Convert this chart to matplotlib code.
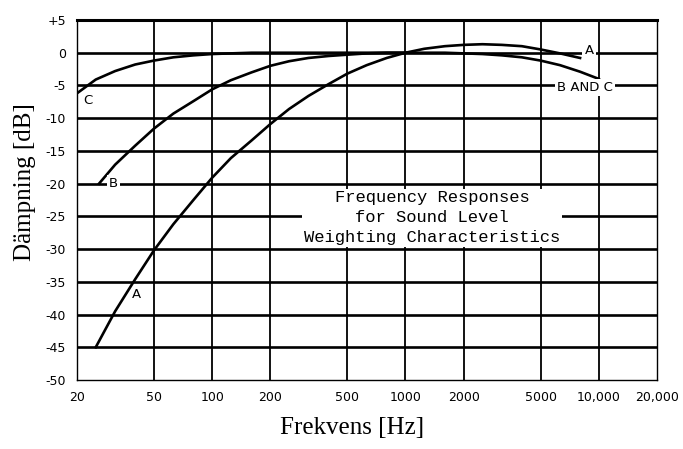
import matplotlib.pyplot as plt

# frequency weighting curves (Hz, dB)
freq_a = [25, 31.5, 40, 50, 63, 80, 100, 125, 160, 200, 250, 315, 400, 500,
          630, 800, 1000, 1250, 1600, 2000, 2500, 3150, 4000, 5000, 6300, 8000]
db_a = [-45, -39.5, -34.6, -30.2, -26.2, -22.5, -19.1, -16.1, -13.4, -10.9,
        -8.6, -6.6, -4.8, -3.2, -1.9, -0.8, 0, 0.6, 1.0, 1.2, 1.3, 1.2, 1.0,
        0.5, -0.1, -0.8]

freq_b = [26, 31.5, 40, 50, 63, 80, 100, 125, 160, 200, 250, 315, 400, 500,
          630, 800, 1000, 1250, 1600, 2000, 2500, 3150, 4000, 5000, 6300, 8000,
          10000]
db_b = [-20, -17.1, -14.2, -11.6, -9.3, -7.4, -5.6, -4.2, -3.0, -2.0, -1.3,
        -0.8, -0.5, -0.3, -0.1, 0, 0, 0, 0, -0.1, -0.2, -0.4, -0.7, -1.2, -1.9,
        -2.9, -4.0]

freq_c = [20, 25, 31.5, 40, 50, 63, 80, 100, 125, 160, 200, 500, 1000]
db_c = [-6.2, -4.1, -2.8, -1.8, -1.2, -0.7, -0.4, -0.2, -0.1, 0, 0, 0, 0]

x_ticks = [20, 50, 100, 200, 500, 1000, 2000, 5000, 10000, 20000]
x_labels = ['20', '50', '100', '200', '500', '1000', '2000', '5000', '10,000', '20,000']
y_ticks = list(range(5, -55, -5))
y_labels = ['+5'] + [str(v) for v in y_ticks[1:]]

fig = plt.figure(figsize=(6.83, 4.49), dpi=100)
ax = fig.add_axes([77 / 683, 1 - 380 / 449, 580 / 683, 360 / 449])

ax.set_xscale('log')
ax.set_xlim(20, 20000)
ax.set_ylim(-50, 5)

# heavy ruled grid
for y in y_ticks[1:-1]:
    ax.axhline(y, color='black', lw=1.9, zorder=1)
for x in x_ticks[1:-1]:
    ax.axvline(x, color='black', lw=1.3, zorder=1)

ax.plot(freq_a, db_a, color='black', lw=1.9, zorder=3)
ax.plot(freq_b, db_b, color='black', lw=1.9, zorder=3)
ax.plot(freq_c, db_c, color='black', lw=1.9, zorder=3)

lbl = dict(fontsize=9.5, ha='center', va='center', family='DejaVu Sans', zorder=4)
box = dict(facecolor='white', edgecolor='none', pad=1.5)
ax.text(40.5, -37, 'A', **lbl)
ax.text(8900, 0.3, 'A', bbox=box, **lbl)
ax.text(8500, -5.3, 'B AND C', bbox=box, **lbl)
ax.text(31, -20, 'B', bbox=box, **lbl)
ax.text(22.8, -7.3, 'C', **lbl)

ax.text(1370, -25.2, 'Frequency Responses\nfor Sound Level\nWeighting Characteristics',
        family='Liberation Mono', fontsize=12.3, ha='center', va='center',
        linespacing=1.4, zorder=5,
        bbox=dict(facecolor='white', edgecolor='none', boxstyle='square,pad=0.1'))

ax.set_xticks(x_ticks)
ax.set_xticklabels(x_labels)
ax.minorticks_off()
ax.set_yticks(y_ticks)
ax.set_yticklabels(y_labels)
ax.tick_params(length=0, labelsize=9)
ax.tick_params(axis='x', pad=8)
ax.tick_params(axis='y', pad=8)

for side in ['left', 'right', 'bottom']:
    ax.spines[side].set_linewidth(1.0)
ax.spines['top'].set_linewidth(2.2)

fig.text(352 / 683, 1 - 428 / 449, 'Frekvens [Hz]', family='Liberation Serif',
         fontsize=18, ha='center', va='center')
fig.text(25 / 683, 1 - 182 / 449, 'Dämpning [dB]', family='Liberation Serif',
         fontsize=18, ha='center', va='center', rotation=90)

fig.savefig('out.png', dpi=100, facecolor='white')
